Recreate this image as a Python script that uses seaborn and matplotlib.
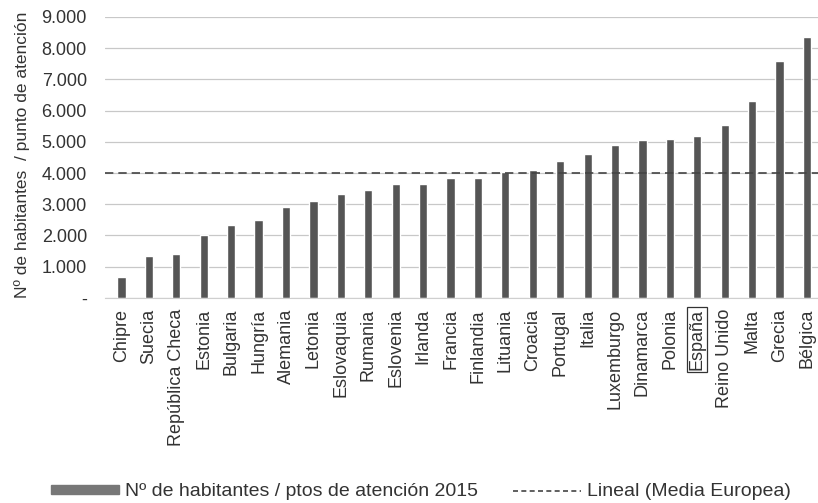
import matplotlib
matplotlib.use("Agg")
import matplotlib.pyplot as plt
import seaborn as sns
import pandas as pd
from matplotlib.patches import Patch
from matplotlib.lines import Line2D

# data
paises = ["Chipre", "Suecia", "República Checa", "Estonia", "Bulgaria", "Hungría",
          "Alemania", "Letonia", "Eslovaquia", "Rumania", "Eslovenia", "Irlanda",
          "Francia", "Finlandia", "Lituania", "Croacia", "Portugal", "Italia",
          "Luxemburgo", "Dinamarca", "Polonia", "España", "Reino Unido", "Malta",
          "Grecia", "Bélgica"]
habitantes = [680, 1350, 1420, 2030, 2320, 2490, 2900, 3100, 3320, 3450, 3640, 3650,
              3830, 3830, 4030, 4100, 4390, 4610, 4900, 5060, 5100, 5190, 5550, 6320,
              7580, 8350]
media_europea = 4000
yticks = [0, 1000, 2000, 3000, 4000, 5000, 6000, 7000, 8000, 9000]
ytick_labels = ["-", "1.000", "2.000", "3.000", "4.000", "5.000", "6.000", "7.000",
                "8.000", "9.000"]

df = pd.DataFrame({"pais": paises, "valor": habitantes})

sns.set_style("white")
plt.rcParams["font.family"] = ["Liberation Sans", "DejaVu Sans"]

bar_color = "#555555"
text_color = "#333333"

fig = plt.figure(figsize=(8.18, 5.03), dpi=100)
ax = fig.add_axes([105 / 818, 0.4076, 1 - 105 / 818, 0.559])

sns.barplot(data=df, x="pais", y="valor", color=bar_color, width=0.3,
            saturation=1, ax=ax)
ax.axhline(media_europea, color="#444444", lw=1.2, ls=(0, (5, 3)), zorder=3)

ax.set_ylim(0, 9000)
ax.set_xlim(-0.6, 25.4)
ax.set_yticks(yticks)
ax.set_yticklabels(ytick_labels, fontsize=13, color=text_color)
ax.yaxis.grid(True, color="#c8c8c8", lw=0.9)
ax.set_axisbelow(True)
ax.tick_params(axis="y", length=0, pad=13)
ax.tick_params(axis="x", length=0, pad=8, labelrotation=90, labelsize=13,
               labelcolor=text_color)
for lbl in ax.get_xticklabels():
    lbl.set_va("top")
    if lbl.get_text() == "España":
        lbl.set_bbox(dict(facecolor="none", edgecolor="#333333", pad=1.2, lw=0.9))

for s in ["top", "right", "left"]:
    ax.spines[s].set_visible(False)
ax.spines["bottom"].set_color("#cfcfcf")

ax.set_xlabel("")
ax.set_ylabel("Nº de habitantes  / punto de atención", fontsize=12.5, color=text_color)
ax.yaxis.set_label_coords(-0.105, 0.51)

handles = [Patch(color="#777777", label="Nº de habitantes / ptos de atención 2015"),
           Line2D([0], [0], color="#444444", lw=1.2, ls=(0, (3, 2)),
                  label="Lineal (Media Europea)")]
fig.legend(handles=handles, loc="center", bbox_to_anchor=(0.515, 0.022), ncol=2,
           frameon=False, fontsize=14, handlelength=3.5, handleheight=0.3,
           columnspacing=1.8, handletextpad=0.3, labelcolor=text_color)

fig.savefig("out.png", dpi=100)
